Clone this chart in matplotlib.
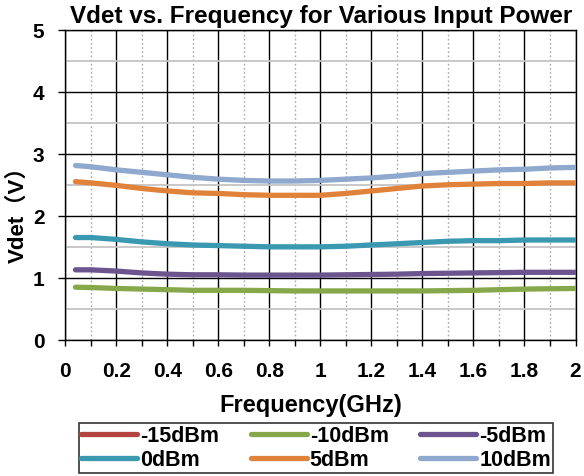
import matplotlib
matplotlib.use("Agg")
import matplotlib.pyplot as plt
from matplotlib.ticker import FixedLocator, MultipleLocator

plt.rcParams['font.family'] = ['Liberation Sans', 'Noto Sans CJK SC', 'DejaVu Sans']
plt.rcParams['font.weight'] = 'bold'

title = "Vdet vs. Frequency for Various Input Power"
xlabel = "Frequency(GHz)"
ylabel = "Vdet（V）"

freq = [0.04, 0.1, 0.2, 0.3, 0.4, 0.5, 0.6, 0.7, 0.8, 0.9, 1.0,
        1.1, 1.2, 1.3, 1.4, 1.5, 1.6, 1.7, 1.8, 1.9, 2.0]

series_names = ["-15dBm", "-10dBm", "-5dBm", "0dBm", "5dBm", "10dBm"]
v_m15 = []  # not visible in the chart
v_m10 = [0.85, 0.845, 0.83, 0.82, 0.81, 0.80, 0.80, 0.80, 0.795, 0.79, 0.79,
         0.79, 0.79, 0.79, 0.79, 0.795, 0.80, 0.81, 0.82, 0.825, 0.83]
v_m5 = [1.13, 1.13, 1.11, 1.08, 1.06, 1.05, 1.05, 1.045, 1.045, 1.045, 1.045,
        1.05, 1.055, 1.06, 1.07, 1.075, 1.08, 1.085, 1.09, 1.09, 1.09]
v_0 = [1.65, 1.65, 1.62, 1.58, 1.55, 1.53, 1.52, 1.51, 1.50, 1.50, 1.50,
       1.51, 1.53, 1.55, 1.57, 1.59, 1.60, 1.60, 1.61, 1.61, 1.61]
v_5 = [2.55, 2.53, 2.49, 2.44, 2.40, 2.37, 2.36, 2.34, 2.33, 2.33, 2.33,
       2.36, 2.40, 2.44, 2.48, 2.50, 2.51, 2.52, 2.52, 2.53, 2.53]
v_10 = [2.81, 2.79, 2.74, 2.70, 2.66, 2.62, 2.59, 2.57, 2.56, 2.56, 2.57,
        2.59, 2.61, 2.64, 2.68, 2.70, 2.72, 2.74, 2.75, 2.77, 2.78]
series_values = [v_m15, v_m10, v_m5, v_0, v_5, v_10]
colors = ["#B4443F", "#86A84A", "#6C548F", "#3A98B0", "#E0823A", "#8EA8CE"]

xtick_values = [0, 0.2, 0.4, 0.6, 0.8, 1.0, 1.2, 1.4, 1.6, 1.8, 2.0]
xtick_labels = ["0", "0.2", "0.4", "0.6", "0.8", "1", "1.2", "1.4", "1.6", "1.8", "2"]
ytick_values = [0, 1, 2, 3, 4, 5]

fig = plt.figure(figsize=(5.84, 4.77), dpi=100)
W, H = 584, 477
ax = fig.add_axes([65.3 / W, 1 - 341 / H, (575.5 - 65.3) / W, (341 - 30.5) / H])

# grid
ax.set_xlim(0, 2)
ax.set_ylim(0, 5)
ax.xaxis.set_major_locator(FixedLocator(xtick_values))
ax.xaxis.set_minor_locator(MultipleLocator(0.1))
ax.yaxis.set_major_locator(FixedLocator(ytick_values))
ax.yaxis.set_minor_locator(MultipleLocator(0.5))
ax.grid(which='major', axis='both', color='black', lw=1.0, zorder=0)
ax.grid(which='minor', axis='x', color='#A8A8A8', lw=1.0, ls=(0, (1.2, 1.8)), zorder=0)
ax.grid(which='minor', axis='y', color='#C4C4C4', lw=1.3, zorder=0)
ax.set_axisbelow(True)

handles = []
for name, vals, c in zip(series_names, series_values, colors):
    xs = freq[:len(vals)]
    h, = ax.plot(xs, vals, color=c, lw=3.8, solid_capstyle='round',
                 solid_joinstyle='round', label=name, zorder=3)
    handles.append(h)

ax.set_xticklabels(xtick_labels)
ax.tick_params(axis='x', which='both', direction='out', length=4, width=1,
               color='black', labelsize=15, pad=11)
ax.tick_params(axis='y', which='major', direction='out', length=5, width=1,
               color='black', labelsize=15, pad=10)
ax.tick_params(axis='y', which='minor', length=0)
for lab in ax.get_xticklabels() + ax.get_yticklabels():
    lab.set_fontweight('bold')
for s in ax.spines.values():
    s.set_color('black')
    s.set_linewidth(1.0)

fig.text(321 / W, 1 - 23 / H, title, ha='center', va='baseline',
         fontsize=17.5, fontweight='bold')
fig.text(311 / W, 1 - 412 / H, xlabel, ha='center', va='baseline',
         fontsize=17, fontweight='bold')
fig.text(18 / W, 1 - 209 / H, ylabel, ha='center', va='center', rotation=90,
         fontsize=16, fontweight='bold',
         family=['Liberation Sans', 'Noto Sans CJK SC', 'DejaVu Sans'])

# legend: matplotlib fills columns first, so reorder to read row by row
ncol = 3
nrow = 2
order = [r * ncol + c for c in range(ncol) for r in range(nrow)]
leg = fig.legend(handles=[handles[i] for i in order],
                 labels=[series_names[i] for i in order], ncol=ncol,
                 loc='upper left', bbox_to_anchor=(79 / W, 1 - 424 / H),
                 bbox_transform=fig.transFigure,
                 frameon=True, fancybox=False, edgecolor='black',
                 handlelength=2.6, handletextpad=0.15,
                 columnspacing=1.45, labelspacing=0.15, borderpad=0.1,
                 borderaxespad=0, prop={'weight': 'bold', 'size': 15.5})
leg.get_frame().set_linewidth(1.2)
for lh in leg.legend_handles:
    lh.set_linewidth(3.8)
    lh.set_solid_capstyle('round')

fig.savefig("out.png", dpi=100)
